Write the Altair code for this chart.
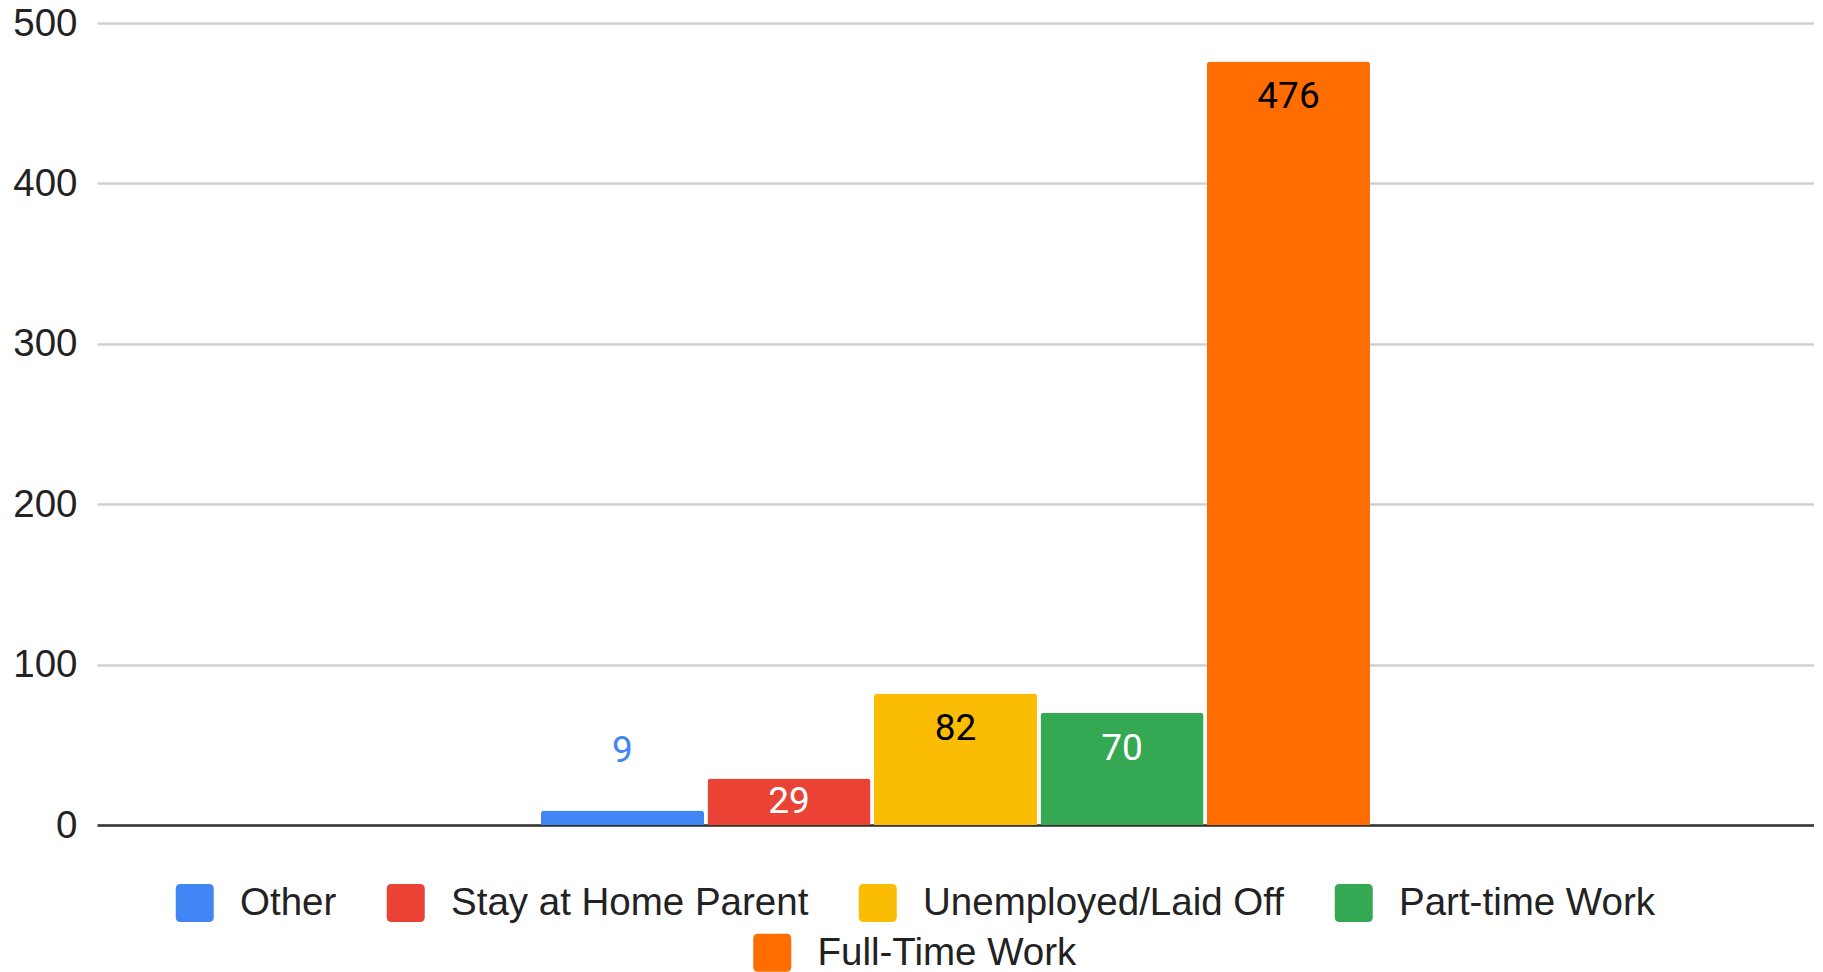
import altair as alt
import pandas as pd

# ---- data ----
statuses = ["Other", "Stay at Home Parent", "Unemployed/Laid Off", "Part-time Work", "Full-Time Work"]
counts = [9, 29, 82, 70, 476]
colors = ["#4285f4", "#ea4335", "#fbbc04", "#34a853", "#ff6d01"]
y_ticks = [0, 100, 200, 300, 400, 500]

df = pd.DataFrame({"status": statuses, "count": counts})
df["grp"] = "all"

FONT = "Arial, 'Liberation Sans', sans-serif"
LABEL_FONT = "Roboto, Arial, sans-serif"
ROUND_SQ = ("M-1,-0.75 Q-1,-1 -0.75,-1 L0.75,-1 Q1,-1 1,-0.75 L1,0.75 "
            "Q1,1 0.75,1 L-0.75,1 Q-1,1 -1,0.75 Z")

x_enc = alt.X(
    "grp:N",
    scale=alt.Scale(paddingInner=0, paddingOuter=0.5356),
    axis=alt.Axis(labels=False, ticks=False, grid=False, title=None,
                  domainColor="#333333", domainWidth=2.5),
)
xo_enc = alt.XOffset(
    "status:N",
    scale=alt.Scale(domain=statuses, paddingInner=0.021, paddingOuter=0),
)
y_enc = alt.Y(
    "count:Q",
    scale=alt.Scale(domain=[0, 500], nice=False),
    axis=alt.Axis(values=y_ticks, title=None, ticks=False, domain=False,
                  labelFontSize=38.5, labelFont=FONT, labelColor="#222222",
                  labelPadding=20, gridColor="#d0d0d0", gridWidth=2.5),
)


def legend(x, y):
    return alt.Legend(
        orient="none", direction="horizontal", legendX=x, legendY=y,
        symbolType=ROUND_SQ, symbolSize=1444, symbolStrokeWidth=0,
        labelFontSize=38.5, labelFont=FONT, labelColor="#222222",
        labelOffset=26, columnPadding=50, labelLimit=1000, padding=0,
    )


base = alt.Chart(df)

bars_a = base.transform_filter(
    alt.FieldOneOfPredicate(field="status", oneOf=statuses[:4])
).mark_bar(cornerRadiusTopLeft=3, cornerRadiusTopRight=3).encode(
    x=x_enc, xOffset=xo_enc, y=y_enc,
    color=alt.Color("status:N", title=None,
                    scale=alt.Scale(domain=statuses[:4], range=colors[:4]),
                    legend=legend(78.5, 860.5)),
)

bars_b = base.transform_filter(
    alt.FieldOneOfPredicate(field="status", oneOf=statuses[4:])
).mark_bar(cornerRadiusTopLeft=3, cornerRadiusTopRight=3).encode(
    x=x_enc, xOffset=xo_enc, y=y_enc,
    fill=alt.Fill("status:N", title=None,
                  scale=alt.Scale(domain=statuses[4:], range=colors[4:]),
                  legend=legend(656, 910.5)),
)

white_on = ["Stay at Home Parent", "Part-time Work"]

lab_top = base.transform_filter(alt.datum["count"] >= 50).mark_text(
    baseline="middle", dy=36, fontSize=37, font=LABEL_FONT
).encode(
    x=x_enc, xOffset=xo_enc, y=y_enc, text="count:Q",
    color=alt.condition(alt.FieldOneOfPredicate(field="status", oneOf=white_on),
                        alt.value("#ffffff"), alt.value("#000000")),
)

lab_mid = base.transform_filter(
    (alt.datum["count"] >= 20) & (alt.datum["count"] < 50)
).mark_text(baseline="middle", dy=23.5, fontSize=37, font=LABEL_FONT, color="#ffffff").encode(
    x=x_enc, xOffset=xo_enc, y=y_enc, text="count:Q",
)

lab_above = base.transform_filter(alt.datum["count"] < 20).mark_text(
    baseline="middle", dy=-59.5, fontSize=37, font=LABEL_FONT, color="#4285f4"
).encode(
    x=x_enc, xOffset=xo_enc, y=y_enc, text="count:Q",
)

chart = alt.layer(bars_a, bars_b, lab_top, lab_mid, lab_above).properties(
    width=1717, height=802,
    padding={"left": 89, "top": 15, "right": 0, "bottom": 147},
    autosize=alt.AutoSizeParams(type="none"),
).configure_view(stroke=None)

chart.save("out.html", embed_options={"renderer": "svg", "actions": False})
